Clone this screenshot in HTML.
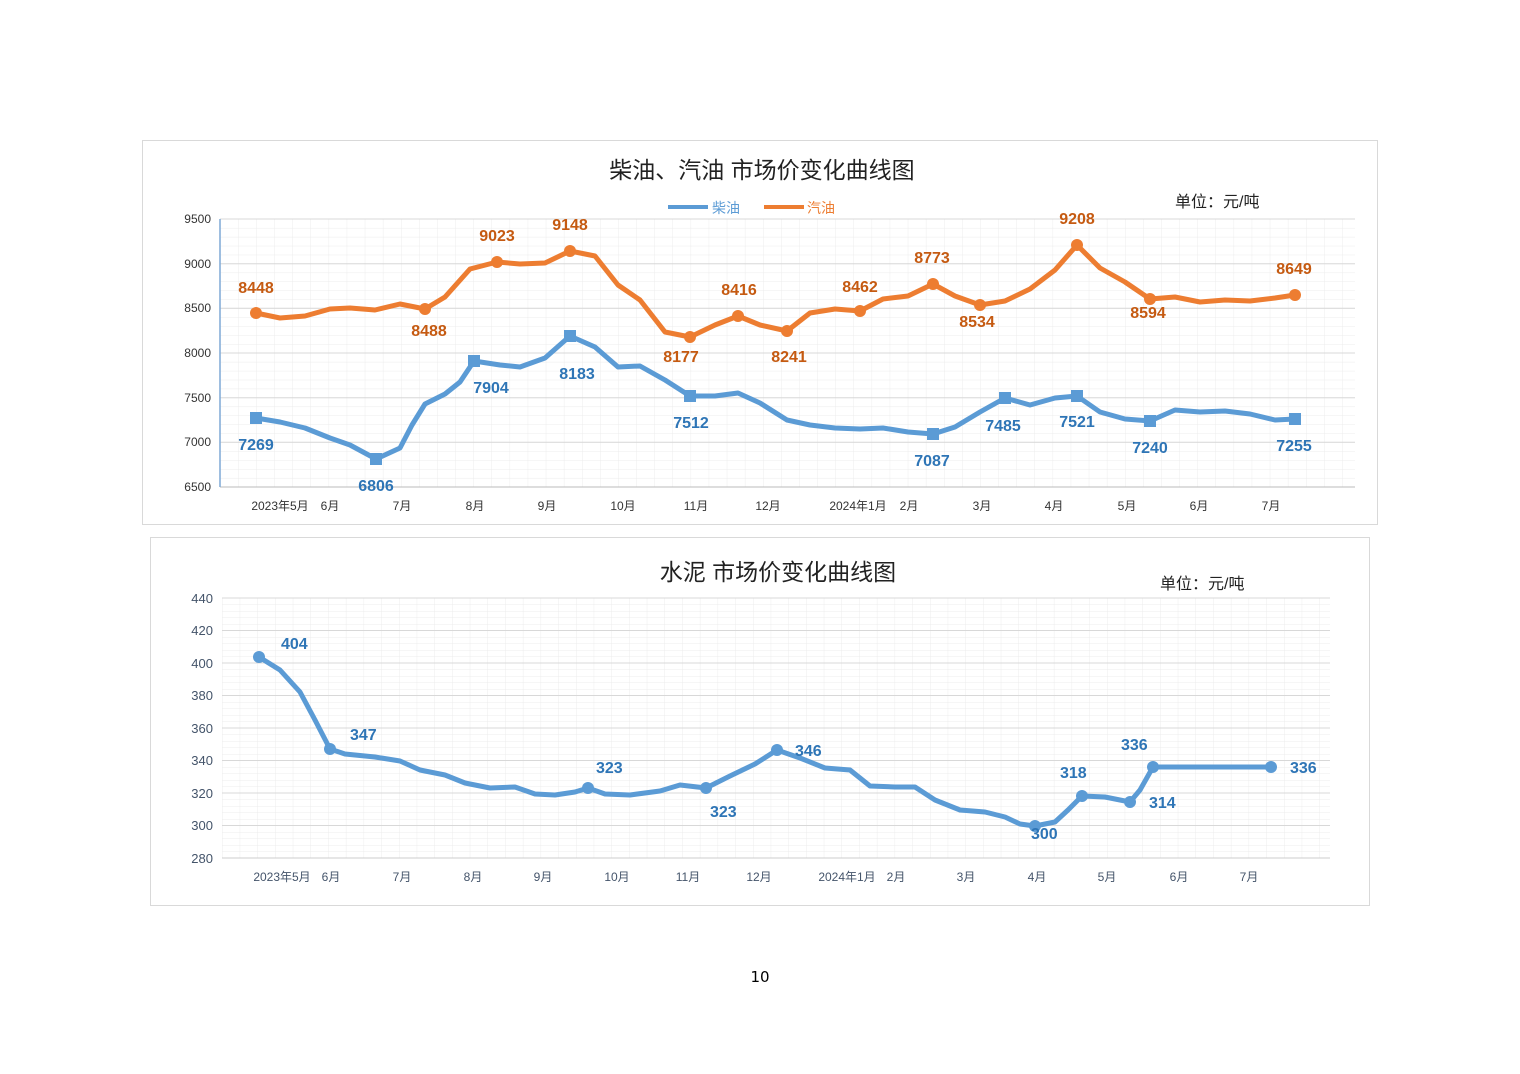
<!DOCTYPE html>
<html><head><meta charset="utf-8"><style>
html,body{margin:0;padding:0;background:#fff;}
svg{display:block;}
text{font-family:"Liberation Sans","Noto Sans CJK SC",sans-serif;}
.dl{font-family:"DejaVu Sans","Liberation Sans",sans-serif;}
</style></head><body>
<svg width="1520" height="1074" viewBox="0 0 1520 1074" xmlns="http://www.w3.org/2000/svg">
<defs>
<pattern id="g1" x="220" y="219" width="18.1" height="8.93" patternUnits="userSpaceOnUse">
<path d="M0 0H18.1M0 0V8.93" stroke="#ececec" stroke-width="1" fill="none"/></pattern>
<pattern id="g2" x="222" y="598" width="17.7" height="6.5" patternUnits="userSpaceOnUse">
<path d="M0 0H17.7M0 0V6.5" stroke="#ececec" stroke-width="1" fill="none"/></pattern>
</defs>
<rect width="1520" height="1074" fill="#fff"/>

<!-- TOP CHART -->
<rect x="142.5" y="140.5" width="1235" height="384" fill="#fff" stroke="#d9d9d9"/>
<text x="762" y="178" font-size="23" text-anchor="middle" fill="#222">柴油、汽油  市场价变化曲线图</text>
<line x1="668" y1="207" x2="708" y2="207" stroke="#5b9bd5" stroke-width="4"/>
<text x="712" y="213" font-size="14" fill="#5b9bd5">柴油</text>
<line x1="764" y1="207" x2="804" y2="207" stroke="#ed7d31" stroke-width="4"/>
<text x="807" y="213" font-size="14" fill="#ed7d31">汽油</text>
<text x="1175" y="207" font-size="16" fill="#222">单位：元/吨</text>
<rect x="220" y="219" width="1135" height="268" fill="url(#g1)"/>
<g stroke="#d8d8d8" stroke-width="1">
<line x1="220" y1="219" x2="1355" y2="219"/><line x1="220" y1="263.7" x2="1355" y2="263.7"/>
<line x1="220" y1="308.3" x2="1355" y2="308.3"/><line x1="220" y1="353" x2="1355" y2="353"/>
<line x1="220" y1="397.7" x2="1355" y2="397.7"/><line x1="220" y1="442.3" x2="1355" y2="442.3"/>
</g>
<line x1="220" y1="487" x2="1355" y2="487" stroke="#bbb"/>
<line x1="220" y1="219" x2="220" y2="487" stroke="#7fa9d6" stroke-width="1.5"/>
<g font-size="12" fill="#333" text-anchor="end">
<text x="211" y="223">9500</text><text x="211" y="268">9000</text><text x="211" y="312">8500</text>
<text x="211" y="357">8000</text><text x="211" y="402">7500</text><text x="211" y="446">7000</text><text x="211" y="491">6500</text>
</g>
<g font-size="12" fill="#333" text-anchor="middle">
<text x="280" y="510">2023年5月</text><text x="330" y="510">6月</text><text x="402" y="510">7月</text>
<text x="475" y="510">8月</text><text x="547" y="510">9月</text><text x="623" y="510">10月</text>
<text x="696" y="510">11月</text><text x="768" y="510">12月</text><text x="858" y="510">2024年1月</text>
<text x="909" y="510">2月</text><text x="982" y="510">3月</text><text x="1054" y="510">4月</text>
<text x="1127" y="510">5月</text><text x="1199" y="510">6月</text><text x="1271" y="510">7月</text>
</g>
<polyline fill="none" stroke="#ed7d31" stroke-width="5" stroke-linejoin="round" stroke-linecap="round"
points="256,313 280,318 305,316 330,309 350,308 375,310 400,304 425,309 445,297 470,269 497,262 520,264 545,263 570,251 595,256 618,285 640,300 665,332 690,337 715,325 738,316 760,325 787,331 810,313 835,309 860,311 883,299 908,296 933,284 955,296 980,305 1005,301 1030,289 1055,270 1077,245 1100,268 1125,282 1150,299 1175,297 1200,302 1225,300 1250,301 1275,298 1295,295"/>
<g fill="#ed7d31">
<circle cx="256" cy="313" r="6"/><circle cx="425" cy="309" r="6"/><circle cx="497" cy="262" r="6"/>
<circle cx="570" cy="251" r="6"/><circle cx="690" cy="337" r="6"/><circle cx="738" cy="316" r="6"/>
<circle cx="787" cy="331" r="6"/><circle cx="860" cy="311" r="6"/><circle cx="933" cy="284" r="6"/>
<circle cx="980" cy="305" r="6"/><circle cx="1077" cy="245" r="6"/><circle cx="1150" cy="299" r="6"/><circle cx="1295" cy="295" r="6"/>
</g>
<g class="dl" font-size="16" font-weight="bold" fill="#c55a11" text-anchor="middle">
<text x="256" y="293">8448</text><text x="429" y="336">8488</text><text x="497" y="241">9023</text>
<text x="570" y="230">9148</text><text x="681" y="362">8177</text><text x="739" y="295">8416</text>
<text x="789" y="362">8241</text><text x="860" y="292">8462</text><text x="932" y="263">8773</text>
<text x="977" y="327">8534</text><text x="1077" y="224">9208</text><text x="1148" y="318">8594</text><text x="1294" y="274">8649</text>
</g>
<polyline fill="none" stroke="#5b9bd5" stroke-width="5" stroke-linejoin="round" stroke-linecap="round"
points="256,418 280,422 305,428 330,438 350,445 376,459 400,448 412,425 425,404 445,394 460,382 474,361 500,365 520,367 545,358 570,336 595,347 618,367 640,366 665,380 690,396 715,396 738,393 760,403 787,420 810,425 835,428 860,429 883,428 908,432 933,434 955,427 980,412 1005,398 1030,405 1055,398 1077,396 1100,412 1125,419 1150,421 1175,410 1200,412 1225,411 1250,414 1275,420 1295,419"/>
<g fill="#5b9bd5">
<rect x="250" y="412" width="12" height="12"/><rect x="370" y="453" width="12" height="12"/><rect x="468" y="355" width="12" height="12"/>
<rect x="564" y="330" width="12" height="12"/><rect x="684" y="390" width="12" height="12"/><rect x="927" y="428" width="12" height="12"/>
<rect x="999" y="392" width="12" height="12"/><rect x="1071" y="390" width="12" height="12"/><rect x="1144" y="415" width="12" height="12"/><rect x="1289" y="413" width="12" height="12"/>
</g>
<g class="dl" font-size="16" font-weight="bold" fill="#2e75b6" text-anchor="middle">
<text x="256" y="450">7269</text><text x="376" y="491">6806</text><text x="491" y="393">7904</text>
<text x="577" y="379">8183</text><text x="691" y="428">7512</text><text x="932" y="466">7087</text>
<text x="1003" y="431">7485</text><text x="1077" y="427">7521</text><text x="1150" y="453">7240</text><text x="1294" y="451">7255</text>
</g>

<!-- BOTTOM CHART -->
<rect x="150.5" y="537.5" width="1219" height="368" fill="#fff" stroke="#d9d9d9"/>
<text x="778" y="580" font-size="23" text-anchor="middle" fill="#222">水泥  市场价变化曲线图</text>
<text x="1160" y="589" font-size="16" fill="#222">单位：元/吨</text>
<rect x="222" y="598" width="1108" height="260" fill="url(#g2)"/>
<g stroke="#d8d8d8" stroke-width="1">
<line x1="222" y1="598" x2="1330" y2="598"/><line x1="222" y1="630.5" x2="1330" y2="630.5"/>
<line x1="222" y1="663" x2="1330" y2="663"/><line x1="222" y1="695.5" x2="1330" y2="695.5"/>
<line x1="222" y1="728" x2="1330" y2="728"/><line x1="222" y1="760.5" x2="1330" y2="760.5"/>
<line x1="222" y1="793" x2="1330" y2="793"/><line x1="222" y1="825.5" x2="1330" y2="825.5"/>
</g>
<line x1="222" y1="858" x2="1330" y2="858" stroke="#ccc"/>
<g font-size="13" fill="#44546a" text-anchor="end">
<text x="213" y="603">440</text><text x="213" y="635">420</text><text x="213" y="668">400</text>
<text x="213" y="700">380</text><text x="213" y="733">360</text><text x="213" y="765">340</text>
<text x="213" y="798">320</text><text x="213" y="830">300</text><text x="213" y="863">280</text>
</g>
<g font-size="12" fill="#44546a" text-anchor="middle">
<text x="282" y="881">2023年5月</text><text x="331" y="881">6月</text><text x="402" y="881">7月</text>
<text x="473" y="881">8月</text><text x="543" y="881">9月</text><text x="617" y="881">10月</text>
<text x="688" y="881">11月</text><text x="759" y="881">12月</text><text x="847" y="881">2024年1月</text>
<text x="896" y="881">2月</text><text x="966" y="881">3月</text><text x="1037" y="881">4月</text>
<text x="1107" y="881">5月</text><text x="1179" y="881">6月</text><text x="1249" y="881">7月</text>
</g>
<polyline fill="none" stroke="#5b9bd5" stroke-width="5" stroke-linejoin="round" stroke-linecap="round"
points="259,657 280,670 300,692 315,720 330,749 345,754 375,757 400,761 420,770 445,775 465,783 490,788 515,787 535,794 555,795 575,792 588,788 605,794 630,795 660,791 680,785 706,788 730,776 755,764 777,750 800,758 825,768 850,770 870,786 895,787 915,787 935,800 960,810 985,812 1005,817 1020,824 1035,826 1055,822 1068,810 1082,796 1105,797 1130,802 1140,790 1153,767 1200,767 1271,767"/>
<g fill="#5b9bd5">
<circle cx="259" cy="657" r="6"/><circle cx="330" cy="749" r="6"/><circle cx="588" cy="788" r="6"/>
<circle cx="706" cy="788" r="6"/><circle cx="777" cy="750" r="6"/><circle cx="1035" cy="826" r="6"/>
<circle cx="1082" cy="796" r="6"/><circle cx="1130" cy="802" r="6"/><circle cx="1153" cy="767" r="6"/><circle cx="1271" cy="767" r="6"/>
</g>
<g class="dl" font-size="16" font-weight="bold" fill="#2e75b6">
<text x="281" y="649">404</text><text x="350" y="740">347</text><text x="596" y="773">323</text>
<text x="710" y="817">323</text><text x="795" y="756">346</text><text x="1031" y="839">300</text>
<text x="1060" y="778">318</text><text x="1149" y="808">314</text><text x="1121" y="750">336</text><text x="1290" y="773">336</text>
</g>

<text class="dl" x="760" y="982" font-size="15" text-anchor="middle" fill="#000">10</text>
</svg>
</body></html>
